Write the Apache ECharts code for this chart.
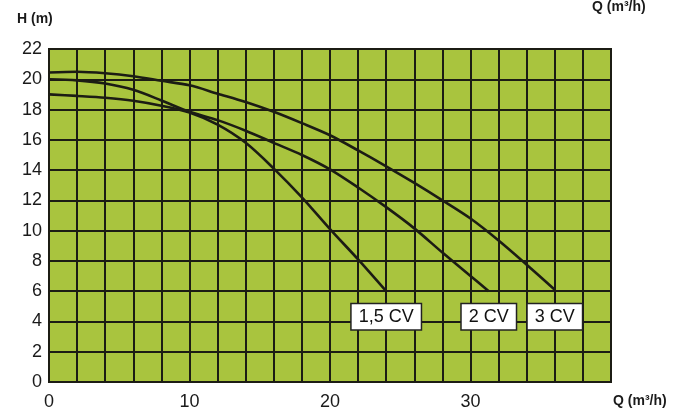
<!DOCTYPE html>
<html>
<head>
<meta charset="utf-8">
<script src="https://cdn.jsdelivr.net/npm/echarts@6/dist/echarts.min.js"></script>
<style>
  html, body { margin: 0; padding: 0; background: #fff; }
  #chart { width: 686px; height: 411px; }
</style>
</head>
<body>
<div id="chart"></div>
<script>
// pump curves: [Q (m3/h), H (m)]
const curve15 = [[0, 19.0], [2, 18.9], [4, 18.78], [6, 18.58], [8, 18.25], [10, 17.8], [12, 17.0], [14, 15.8], [16, 14.1], [18, 12.2], [20, 10.1], [22, 8.1], [24, 6.0]];
const curve2 = [[0, 20.0], [2, 19.93], [4, 19.72], [6, 19.3], [8, 18.6], [10, 17.85], [12, 17.3], [14, 16.6], [16, 15.8], [18, 15.0], [20, 14.05], [22, 12.85], [24, 11.55], [26, 10.15], [28, 8.55], [30, 7.0], [31.3, 6.0]];
const curve3 = [[0, 20.45], [2, 20.5], [4, 20.4], [6, 20.2], [8, 19.9], [10, 19.6], [12, 19.05], [14, 18.5], [16, 17.85], [18, 17.1], [20, 16.3], [22, 15.3], [24, 14.25], [26, 13.15], [28, 12.0], [30, 10.8], [32, 9.35], [34, 7.75], [36, 6.1]];
const seriesNames = ['1,5 CV', '2 CV', '3 CV'];
const xTicks = [0, 10, 20, 30];
const tagLevel = 6; // boxes hang from this height

const curves = [curve15, curve2, curve3];
const ink = '#1c1c14';

const chart = echarts.init(document.getElementById('chart'));

const lineSeries = curves.map((pts, i) => ({
  name: seriesNames[i],
  type: 'line',
  data: pts,
  smooth: 0.3,
  showSymbol: false,
  lineStyle: { color: ink, width: 2.6 },
  z: 3
}));

// label boxes under the end of each curve
const tagSeries = {
  type: 'scatter',
  symbolSize: 0,
  itemStyle: { opacity: 1 },
  data: curves.map((pts, i) => ({ value: [pts[pts.length - 1][0], tagLevel], name: seriesNames[i] })),
  label: {
    show: true,
    position: 'bottom',
    distance: 13,
    formatter: p => p.name,
    color: '#111',
    fontSize: 18,
    fontFamily: 'Liberation Sans, Arial, sans-serif',
    backgroundColor: '#ffffff',
    borderColor: '#222',
    borderWidth: 1.5,
    padding: [4, 7, 3, 7]
  },
  emphasis: { disabled: true },
  z: 5
};

chart.setOption({
  animation: false,
  grid: {
    left: 49, right: 75, top: 49, bottom: 25,
    show: true,
    backgroundColor: '#a9c43e',
    borderColor: ink,
    borderWidth: 2
  },
  xAxis: {
    type: 'value',
    min: 0, max: 40, interval: 2,
    axisLine: { show: false },
    axisTick: { show: false },
    splitLine: { show: true, lineStyle: { color: ink, width: 2 } },
    axisLabel: {
      margin: 11,
      fontSize: 18,
      color: '#1a1a1a',
      fontFamily: 'Liberation Sans, Arial, sans-serif',
      formatter: v => (xTicks.indexOf(v) >= 0 ? String(v) : '')
    }
  },
  yAxis: {
    type: 'value',
    min: 0, max: 22, interval: 2,
    axisLine: { show: false },
    axisTick: { show: false },
    splitLine: { show: true, lineStyle: { color: ink, width: 2 } },
    axisLabel: {
      margin: 7,
      fontSize: 18,
      color: '#1a1a1a',
      fontFamily: 'Liberation Sans, Arial, sans-serif'
    }
  },
  graphic: [
    {
      type: 'text', left: 17, top: 12,
      style: { text: 'H (m)', fontSize: 14, fontWeight: 'bold', fill: '#1a1a1a', fontFamily: 'Liberation Sans, Arial, sans-serif' }
    },
    {
      type: 'text', left: 592, top: 0,
      style: { text: 'Q (m³/h)', fontSize: 14, fontWeight: 'bold', fill: '#1a1a1a', fontFamily: 'Liberation Sans, Arial, sans-serif' }
    },
    {
      type: 'text', left: 613, top: 394,
      style: { text: 'Q (m³/h)', fontSize: 14, fontWeight: 'bold', fill: '#1a1a1a', fontFamily: 'Liberation Sans, Arial, sans-serif' }
    }
  ],
  series: lineSeries.concat([tagSeries])
});
</script>
</body>
</html>
